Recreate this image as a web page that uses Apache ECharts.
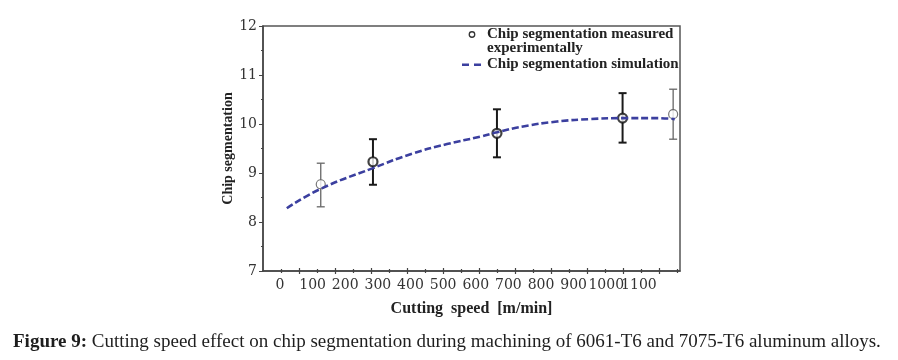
<!DOCTYPE html>
<html>
<head>
<meta charset="utf-8">
<script src="https://cdn.jsdelivr.net/npm/echarts@6/dist/echarts.min.js"></script>
<style>
  html, body { margin: 0; padding: 0; background: #fff; }
  #chart { width: 898px; height: 360px; }
</style>
</head>
<body>
<div id="chart"></div>
<script>
// measured points (cutting speed, chip segmentation) with error bar ends
const expX = [125, 285, 665, 1050, 1205]
const expY = [8.77, 9.23, 9.81, 10.12, 10.2]
const expLow = [8.31, 8.76, 9.32, 9.62, 9.69]
const expHigh = [9.2, 9.69, 10.3, 10.63, 10.71]

// simulation curve
const simX = [21, 123, 285, 408, 512, 613, 665, 745, 849, 950, 1051, 1155, 1210]
const simY = [8.28, 8.67, 9.1, 9.4, 9.59, 9.74, 9.83, 9.95, 10.05, 10.1, 10.12, 10.12, 10.1]

// axis labels
const xLabels = [0, 100, 200, 300, 400, 500, 600, 700, 800, 900, 1000, 1100]
const yLabels = [7, 8, 9, 10, 11, 12]
// tick marks along the bottom axis (in tick steps, not in speed units)
const tallTicks = [2, 4, 6, 8, 10, 12, 14, 16, 18, 20, 22]
const shortTicks = [1, 3, 5, 7, 9, 11, 13, 15, 17, 19, 21, 23]

const expName = 'Chip segmentation measured experimentally'
const simName = 'Chip segmentation simulation'

const chart = echarts.init(document.getElementById('chart'))

const gridBox = { left: 263, right: 218, top: 26, bottom: 89 }
const serif = 'Liberation Serif'
const digits = 'DejaVu Serif'
const axisColor = '#444'
const xMin = -52
const xMax = 1226

// the labels touch each other ("10001100"), so they are split over two
// identical axes to keep ECharts from hiding the overlapping ones
const xLabelsA = xLabels.filter((v, i) => i % 2 === 0)
const xLabelsB = xLabels.filter((v, i) => i % 2 === 1)

const labelAxis = (gridIndex, values) => ({
  type: 'value',
  gridIndex,
  min: xMin,
  max: xMax,
  axisLine: { show: false, onZero: false },
  axisTick: { show: false },
  splitLine: { show: false },
  axisLabel: {
    customValues: values,
    interval: 0,
    hideOverlap: false,
    margin: 7,
    color: '#333',
    fontFamily: digits,
    fontSize: 14,
    formatter: (v) => String(v),
  },
})

// extra grids laid over the main one, only to carry the crossing tick marks
const tickGrids = [
  { ticks: tallTicks, inside: false, length: 3 },
  { ticks: tallTicks, inside: true, length: 3 },
  { ticks: shortTicks, inside: false, length: 2 },
  { ticks: shortTicks, inside: true, length: 2 },
]

const grids = [Object.assign({ show: true, borderColor: '#555', borderWidth: 1.5 }, gridBox)]
const mainX = labelAxis(0, xLabelsA)
mainX.axisLine = { show: true, onZero: false, lineStyle: { color: axisColor, width: 1.5 } }
mainX.name = 'Cutting  speed  [m/min]'
mainX.nameLocation = 'middle'
mainX.nameGap = 30
mainX.nameTextStyle = { color: '#222', fontFamily: serif, fontWeight: 'bold', fontSize: 16 }
const xAxes = [mainX]
const yAxes = [
  {
    type: 'value',
    gridIndex: 0,
    min: 7,
    max: 12,
    interval: 1,
    axisLine: { show: true, onZero: false, lineStyle: { color: axisColor, width: 1.5 } },
    axisTick: { show: true, length: 4, lineStyle: { color: axisColor } },
    minorTick: { show: true, splitNumber: 2, length: 2, lineStyle: { color: axisColor } },
    splitLine: { show: false },
    axisLabel: {
      customValues: yLabels,
      margin: 6,
      color: '#333',
      fontFamily: digits,
      fontSize: 14,
    },
    name: 'Chip segmentation',
    nameLocation: 'middle',
    nameGap: 28,
    nameTextStyle: { color: '#222', fontFamily: serif, fontWeight: 'bold', fontSize: 14 },
  },
]

// second label axis
grids.push(Object.assign({}, gridBox))
xAxes.push(labelAxis(1, xLabelsB))
yAxes.push({ type: 'value', gridIndex: 1, show: false })

tickGrids.forEach((t) => {
  const gi = grids.length
  grids.push(Object.assign({}, gridBox))
  xAxes.push({
    type: 'value',
    gridIndex: gi,
    min: 0,
    max: 417 / 18,
    axisLine: { show: false, onZero: false },
    axisLabel: { show: false },
    splitLine: { show: false },
    axisTick: {
      show: true,
      customValues: t.ticks,
      inside: t.inside,
      length: t.length,
      lineStyle: { color: axisColor, width: 1.2 },
    },
  })
  yAxes.push({ type: 'value', gridIndex: gi, show: false })
})

const errorData = expX.map((x, i) => [x, expLow[i], expHigh[i]])
const faint = (i) => i === 0 || i === expX.length - 1

const option = {
  backgroundColor: '#fff',
  animation: false,
  grid: grids,
  xAxis: xAxes,
  yAxis: yAxes,
  legend: {
    orient: 'vertical',
    left: 462,
    top: 27,
    padding: 0,
    itemWidth: 20,
    itemHeight: 8,
    itemGap: 15,
    formatter: (name) => (name === expName ? 'Chip segmentation measured' : name),
    textStyle: { color: '#222', fontFamily: serif, fontWeight: 'bold', fontSize: 15 },
    data: [
      {
        name: expName,
        icon: 'path://M10,0.6 A3.4,3.4 0 1 1 9.99,0.6 Z M10,1.9 A2.1,2.1 0 1 0 10.01,1.9 Z M0,0 H0.01 V8 H0 Z M20,0 H20.01 V8 H20 Z',
        itemStyle: { color: '#333' },
      },
      {
        name: simName,
        icon: 'path://M0,3 H7 V5.5 H0 Z M12,3 H19 V5.5 H12 Z M0,0 H0.01 V8 H0 Z M20,0 H20.01 V8 H20 Z',
        itemStyle: { color: '#3b3f9f' },
      },
    ],
  },
  graphic: [
    {
      type: 'text',
      left: 487,
      top: 41,
      style: { text: 'experimentally', fill: '#222', font: 'bold 15px "Liberation Serif"' },
    },
    {
      type: 'text',
      left: 13,
      top: 333,
      style: {
        text: '{b|Figure 9:} Cutting speed effect on chip segmentation during machining of 6061-T6 and 7075-T6 aluminum alloys.',
        fill: '#1e1e1e',
        font: '19px "Liberation Serif"',
        rich: { b: { fontWeight: 'bold', fontFamily: serif, fontSize: 19, fill: '#1e1e1e' } },
      },
    },
  ],
  series: [
    {
      name: expName,
      type: 'custom',
      xAxisIndex: 0,
      yAxisIndex: 0,
      data: errorData,
      z: 3,
      renderItem: (params, api) => {
        const top = api.coord([api.value(0), api.value(2)])
        const bot = api.coord([api.value(0), api.value(1)])
        const half = 4
        const c = faint(params.dataIndex) ? '#666' : '#1a1a1a'
        const w = faint(params.dataIndex) ? 1.3 : 2
        const style = { stroke: c, lineWidth: w }
        return {
          type: 'group',
          children: [
            { type: 'line', shape: { x1: top[0], y1: top[1], x2: bot[0], y2: bot[1] }, style },
            { type: 'line', shape: { x1: top[0] - half, y1: top[1], x2: top[0] + half, y2: top[1] }, style },
            { type: 'line', shape: { x1: bot[0] - half, y1: bot[1], x2: bot[0] + half, y2: bot[1] }, style },
          ],
        }
      },
    },
    {
      name: expName,
      type: 'scatter',
      xAxisIndex: 0,
      yAxisIndex: 0,
      symbol: 'circle',
      symbolSize: 9,
      z: 4,
      data: expX.map((x, i) => ({
        value: [x, expY[i]],
        itemStyle: {
          color: '#fff',
          borderColor: faint(i) ? '#555' : '#111',
          borderWidth: faint(i) ? 1.2 : 2.2,
        },
      })),
    },
    {
      name: simName,
      type: 'line',
      xAxisIndex: 0,
      yAxisIndex: 0,
      smooth: true,
      symbol: 'none',
      z: 5,
      lineStyle: { color: '#3b3f9f', width: 2.6, type: [7, 3] },
      itemStyle: { color: '#3b3f9f' },
      data: simX.map((x, i) => [x, simY[i]]),
    },
  ],
}

chart.setOption(option)
</script>
</body>
</html>
